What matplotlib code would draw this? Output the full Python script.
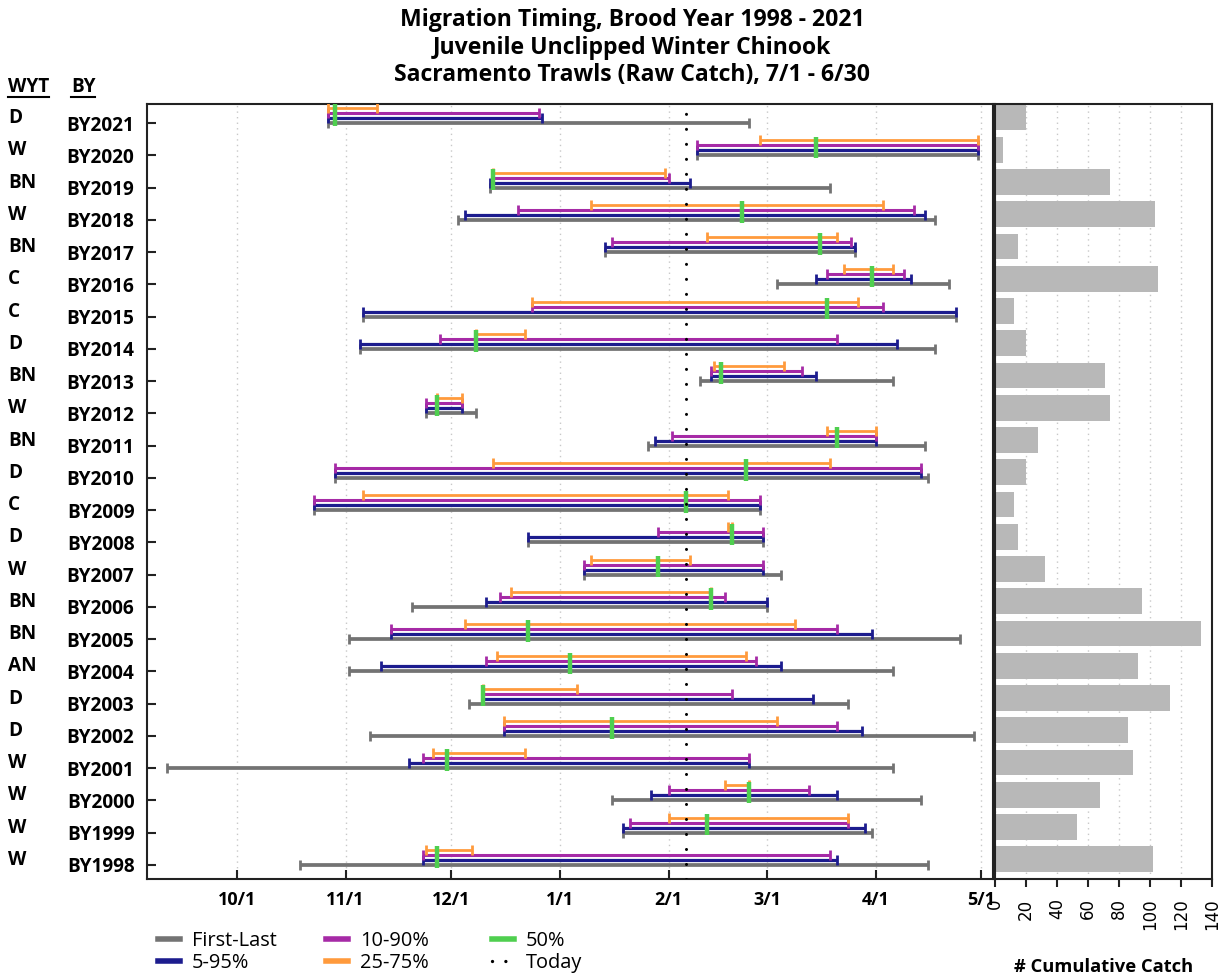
import matplotlib
matplotlib.use('Agg')
import matplotlib.pyplot as plt
import matplotlib.dates as mdates
import matplotlib.transforms as mtransforms
from matplotlib.lines import Line2D
import datetime as dt
import numpy as np

# ---------------- data ----------------
brood_years = ['BY2021', 'BY2020', 'BY2019', 'BY2018', 'BY2017', 'BY2016', 'BY2015', 'BY2014',
               'BY2013', 'BY2012', 'BY2011', 'BY2010', 'BY2009', 'BY2008', 'BY2007', 'BY2006',
               'BY2005', 'BY2004', 'BY2003', 'BY2002', 'BY2001', 'BY2000', 'BY1999', 'BY1998']
wyt = ['D', 'W', 'BN', 'W', 'BN', 'C', 'C', 'D', 'BN', 'W', 'BN', 'D',
       'C', 'D', 'W', 'BN', 'BN', 'AN', 'D', 'D', 'W', 'W', 'W', 'W']

first = ['10/27', '2/9', '12/12', '12/3', '1/14', '3/4', '11/6', '11/5', '2/10', '11/24', '1/26', '10/29',
         '10/23', '12/23', '1/8', '11/20', '11/2', '11/2', '12/6', '11/8', '9/11', '1/16', '1/19', '10/19']
p5 = ['10/27', '2/9', '12/12', '12/5', '1/14', '3/15', '11/6', '11/5', '2/13', '11/24', '1/28', '10/29',
      '10/23', '12/23', '1/8', '12/11', '11/14', '11/11', '12/10', '12/16', '11/19', '1/27', '1/19', '11/23']
p10 = ['10/27', '2/9', '12/13', '12/20', '1/16', '3/18', '12/24', '11/28', '2/13', '11/24', '2/2', '10/29',
       '10/23', '1/29', '1/8', '12/15', '11/14', '12/11', '12/10', '12/16', '11/23', '2/1', '1/21', '11/23']
p25 = ['10/27', '2/27', '12/13', '1/10', '2/12', '3/23', '12/24', '12/8', '2/14', '11/27', '3/18', '12/13',
       '11/6', '2/18', '1/10', '12/18', '12/5', '12/14', '12/10', '12/16', '11/26', '2/17', '2/1', '11/24']
p50 = ['10/29', '3/15', '12/13', '2/22', '3/16', '3/31', '3/18', '12/8', '2/16', '11/27', '3/21', '2/23',
       '2/6', '2/19', '1/29', '2/13', '12/23', '1/4', '12/10', '1/16', '11/30', '2/24', '2/12', '11/27']
p75 = ['11/10', '4/30', '1/31', '4/3', '3/21', '4/6', '3/27', '12/22', '3/6', '12/4', '4/1', '3/19',
       '2/18', '2/19', '2/7', '2/13', '3/9', '2/23', '1/6', '3/4', '12/22', '2/24', '3/24', '12/7']
p90 = ['12/26', '4/30', '2/1', '4/12', '3/25', '4/9', '4/3', '3/21', '3/11', '12/4', '4/1', '4/14',
       '2/27', '2/28', '2/28', '2/17', '3/21', '2/26', '2/19', '3/21', '2/24', '3/13', '3/24', '3/19']
p95 = ['12/27', '4/30', '2/7', '4/15', '3/26', '4/11', '4/24', '4/7', '3/15', '12/4', '4/1', '4/14',
       '2/27', '2/28', '2/28', '3/1', '3/31', '3/5', '3/14', '3/28', '2/24', '3/21', '3/29', '3/21']
last = ['2/24', '4/30', '3/19', '4/18', '3/26', '4/22', '4/24', '4/18', '4/6', '12/8', '4/15', '4/16',
        '2/27', '2/28', '3/5', '3/1', '4/25', '4/6', '3/24', '4/29', '4/6', '4/14', '3/31', '4/16']

catch = [20, 5, 74, 103, 15, 105, 12, 20, 71, 74, 28, 20,
         12, 15, 32, 95, 133, 92, 113, 86, 89, 68, 53, 102]

month_ticks = ['10/1', '11/1', '12/1', '1/1', '2/1', '3/1', '4/1', '5/1']
today = '2/6'
x_limits = ('9/5', '5/4')
catch_ticks = [0, 20, 40, 60, 80, 100, 120, 140]

title_lines = ['Migration Timing, Brood Year 1998 - 2021',
               'Juvenile Unclipped Winter Chinook',
               'Sacramento Trawls (Raw Catch), 7/1 - 6/30']


def to_num(s):
    m, d = map(int, s.split('/'))
    yr = 2001 if m >= 7 else 2002
    return mdates.date2num(dt.date(yr, m, d))


def nums(lst):
    return np.array([to_num(s) for s in lst])


# ---------------- figure ----------------
W, H = 1231, 977
fig = plt.figure(figsize=(W / 100, H / 100), dpi=100)
BOLD = dict(family='Open Sans', fontweight='bold')

ax = fig.add_axes([147 / W, 1 - 879 / H, (993 - 147) / W, (879 - 104) / H])
ax2 = fig.add_axes([995 / W, 1 - 879 / H, (1212 - 995) / W, (879 - 104) / H])

y = np.arange(len(brood_years))
off = 5 / 32.2

C_GRAY = '#737373'
C_BLUE = '#1c1c8e'
C_MAG = '#a62aa6'
C_ORG = '#ff9a3c'
C_GRN = '#4fcf4f'

series = [
    (first, last, C_GRAY, 0.0, 2.7),
    (p5, p95, C_BLUE, -off, 2.3),
    (p10, p90, C_MAG, -2 * off, 2.2),
    (p25, p75, C_ORG, -3 * off, 2.0),
]
for s_lo, s_hi, col, o, lw in series:
    lo, hi = nums(s_lo), nums(s_hi)
    ax.hlines(y + o, lo, hi, color=col, lw=lw, zorder=3)
    ax.plot(lo, y + o, ls='none', marker='|', ms=7, mew=2, color=col, zorder=3)
    ax.plot(hi, y + o, ls='none', marker='|', ms=7, mew=2, color=col, zorder=3)

ax.vlines(nums(p50), y + 0.09, y - 3 * off - 0.11, color=C_GRN, lw=3.2, zorder=4)

ax.axvline(to_num(today), color='black', lw=2.2, linestyle=(0, (0.01, 4.9)),
           dash_capstyle='round', zorder=5)

ax.set_xlim(to_num(x_limits[0]) + 0.4, to_num(x_limits[1]) + 0.4)
ax.set_ylim(len(brood_years) - 1 + 0.44, -0.59)

ax.set_xticks(nums(month_ticks))
ax.set_xticklabels(month_ticks, fontsize=13, **BOLD)
ax.set_yticks(y)
ax.set_yticklabels(brood_years, fontsize=13.7, **BOLD)
ax.tick_params(axis='both', direction='in', length=6.5, width=1.5, color='#222222')
ax.tick_params(axis='y', pad=9.0)
ax.tick_params(axis='x', pad=8.5)
ax.grid(axis='x', color='#c8c8c8', linestyle=(0, (1, 3)), lw=1)
ax.set_axisbelow(True)
for sp in ax.spines.values():
    sp.set_linewidth(1.5)
    sp.set_color('#222222')

# right panel
ax2.barh(y - 0.17, catch, height=0.8, color='#b8b8b8', zorder=2)
ax2.set_xlim(0, 140)
ax2.set_ylim(ax.get_ylim())
ax2.set_yticks([])
ax2.set_xticks(catch_ticks)
ax2.set_xticklabels([str(t) for t in catch_ticks], rotation=90, fontsize=12, family='DejaVu Sans')
ax2.tick_params(axis='x', direction='out', length=6, width=1.5, pad=8, color='#222222')
ax2.grid(axis='x', color='#c8c8c8', linestyle=(0, (1, 3)), lw=1)
ax2.set_axisbelow(True)
for sp in ax2.spines.values():
    sp.set_linewidth(1.5)
    sp.set_color('#222222')
ax2.set_xlabel('# Cumulative Catch', fontsize=13.2, labelpad=20, **BOLD)

# WYT labels
trans = mtransforms.blended_transform_factory(fig.transFigure, ax.transData) + \
    mtransforms.ScaledTranslation(0, 5 / 100, fig.dpi_scale_trans)
for yi, w in zip(y, wyt):
    fig.text(8 / W, yi, w, transform=trans, ha='left', va='center', fontsize=13.7, **BOLD)

# headers
hdr_wyt = fig.text(8 / W, 1 - 87 / H, 'WYT', ha='left', va='center', fontsize=13.7, **BOLD)
hdr_by = fig.text(71 / W, 1 - 87 / H, 'BY', ha='left', va='center', fontsize=13.7, **BOLD)

# titles
for i, line in enumerate(title_lines):
    fig.text(632 / W, 1 - (20 + 27.5 * i) / H, line, ha='center', va='center', fontsize=16.6, **BOLD)

# legends (three columns)
def lh(color, ls='-', lw=4):
    if ls == 'dot':
        return Line2D([0], [0], color=color, lw=2.4, linestyle=(0, (0.01, 4.0)), dash_capstyle='round')
    return Line2D([0], [0], color=color, lw=lw)

cols = [
    ([lh(C_GRAY), lh(C_BLUE)], ['First-Last', '5-95%'], 158),
    ([lh(C_MAG), lh(C_ORG)], ['10-90%', '25-75%'], 326),
    ([lh(C_GRN), lh('black', 'dot')], ['50%', 'Today'], 492),
]
for handles, labels, xpx in cols:
    fig.legend(handles, labels, loc='center left', bbox_to_anchor=(xpx / W, 1 - 952 / H),
               frameon=False, prop={'family': 'Open Sans', 'size': 14.4},
               handlelength=1.1, handletextpad=0.6, labelspacing=0.1,
               borderaxespad=0, borderpad=0)

# underline headers
fig.canvas.draw()
r = fig.canvas.get_renderer()
for t in (hdr_wyt, hdr_by):
    bb = t.get_window_extent(r)
    yy = 1 - 97 / H
    fig.add_artist(Line2D([bb.x0 / W, bb.x1 / W], [yy, yy], color='black', lw=1.5,
                          transform=fig.transFigure))

fig.savefig('out.png', dpi=100)
